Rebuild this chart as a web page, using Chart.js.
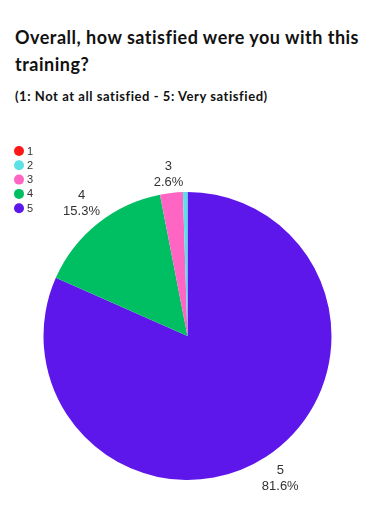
<!DOCTYPE html>
<html>
<head>
<meta charset="utf-8">
<script src="https://cdn.jsdelivr.net/npm/chart.js@4"></script>
<style>
    body { margin: 0; background: #fff; width: 375px; height: 530px; overflow: hidden; position: relative; }
    #title {
        position: absolute; left: 15px; top: 24px; width: 360px;
        font-family: Lato, sans-serif; font-weight: 700; font-size: 18px;
        line-height: 27px; letter-spacing: 0.5px; color: #111;
    }
    #sub {
        position: absolute; left: 15px; top: 88px;
        font-family: Lato, sans-serif; font-weight: 700; font-size: 13px;
        letter-spacing: 0.55px; color: #111;
    }
    #wrap { position: absolute; left: 0; top: 120px; width: 375px; height: 410px; }
</style>
</head>
<body>
<div id="title">Overall, how satisfied were you with this training?</div>
<div id="sub">(1: Not at all satisfied - 5: Very satisfied)</div>
<div id="wrap"><canvas id="chart"></canvas></div>
<script>
/* DATA */
const categories = ["1", "2", "3", "4", "5"];
const responses = [0, 1, 5, 30, 160];
const colors = ["#ff1616", "#5ce1e6", "#ff66c4", "#00bf63", "#5e17eb"];

const total = responses.reduce((a, b) => a + b, 0);

/* slices go clockwise from the top: 5, 4, 3, 2, 1 */
const order = categories.map((c, i) => i).reverse();

/* LEGEND (drawn top left, takes no layout space) */
const legendPlugin = {
    id: "cornerLegend",
    afterDraw(chart) {
        let ctx = chart.ctx;
        ctx.save();
        ctx.font = "11px 'Liberation Sans', sans-serif";
        ctx.textBaseline = "middle";
        categories.forEach((c, i) => {
            let y = 31 + i * 14.3;
            ctx.fillStyle = colors[i];
            ctx.beginPath();
            ctx.arc(19, y, 5, 0, Math.PI * 2);
            ctx.fill();
            ctx.fillStyle = "#333";
            ctx.fillText(c, 27, y + 0.5);
        });
        ctx.restore();
    }
};

/* OUTSIDE LABELS */
const labelPlugin = {
    id: "outsideLabels",
    afterDatasetsDraw(chart) {
        let ctx = chart.ctx;
        let meta = chart.getDatasetMeta(0);
        let data = chart.data.datasets[0].data;
        ctx.save();
        ctx.font = "13px 'Liberation Sans', sans-serif";
        ctx.fillStyle = "#333";
        ctx.textAlign = "center";
        ctx.textBaseline = "middle";
        meta.data.forEach((arc, i) => {
            let pct = data[i] / total * 100;
            if (pct < 1) return;
            let p = arc.getProps(["x", "y", "startAngle", "endAngle", "outerRadius"], true);
            let mid = (p.startAngle + p.endAngle) / 2;
            let r = p.outerRadius + 26;
            let x = p.x + Math.cos(mid) * r;
            let y = p.y + Math.sin(mid) * r;
            // near the top the block sits a bit closer to the rim
            if (Math.sin(mid) < -0.9) y += 7;
            ctx.fillText(chart.data.labels[i], x, y - 8);
            ctx.fillText(pct.toFixed(1) + "%", x, y + 8);
        });
        ctx.restore();
    }
};

let ctx = document.getElementById("chart").getContext("2d");

let chart = new Chart(ctx, {
    type: "pie",
    data: {
        labels: order.map(i => categories[i]),
        datasets: [{
            data: order.map(i => responses[i]),
            backgroundColor: order.map(i => colors[i]),
            borderWidth: 0
        }]
    },
    options: {
        responsive: true,
        maintainAspectRatio: false,
        animation: false,
        layout: { padding: { left: 42, right: 42, top: 72, bottom: 50 } },
        plugins: {
            legend: { display: false },
            tooltip: { enabled: false }
        }
    },
    plugins: [legendPlugin, labelPlugin]
});
</script>
</body>
</html>
